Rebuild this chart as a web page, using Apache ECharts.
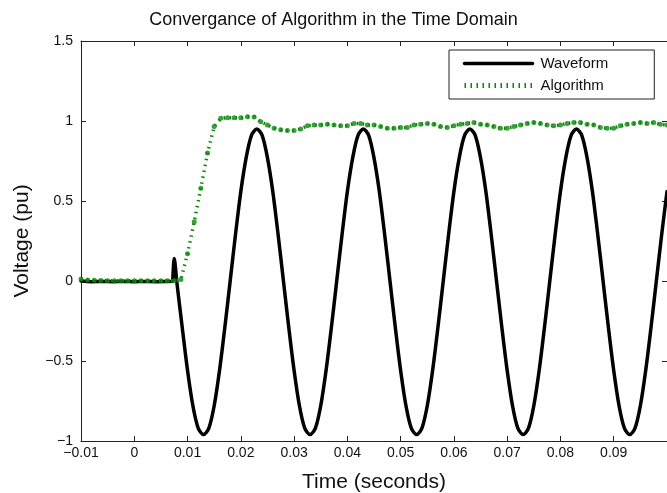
<!DOCTYPE html>
<html>
<head>
<meta charset="utf-8">
<script src="https://cdn.jsdelivr.net/npm/echarts@6/dist/echarts.min.js"></script>
<style>
  html, body { margin: 0; padding: 0; background: #fff; }
  #chart { width: 667px; height: 493px; }
</style>
</head>
<body>
<div id="chart"></div>
<script>
// Measured voltage waveform: [time (s), voltage (pu)]
const waveform = [
  [-0.01, 0.0], [-0.008, -0.004], [-0.006, -0.003], [-0.004, -0.004], [-0.002, -0.003],
  [0.0, -0.004], [0.002, -0.003], [0.004, -0.004], [0.006, -0.003], [0.0072, -0.002],
  [0.0073, 0.0], [0.0075, 0.14], [0.008, -0.01],
  [0.009, -0.29], [0.010, -0.56], [0.011, -0.78], [0.012, -0.92], [0.013, -0.96],
  [0.014, -0.92], [0.015, -0.78], [0.016, -0.56], [0.017, -0.29], [0.018, 0.0],
  [0.019, 0.29], [0.020, 0.56], [0.021, 0.77], [0.022, 0.91], [0.023, 0.95],
  [0.024, 0.91], [0.025, 0.77], [0.026, 0.56], [0.027, 0.29], [0.028, 0.0],
  [0.029, -0.29], [0.030, -0.56], [0.031, -0.78], [0.032, -0.92], [0.033, -0.96],
  [0.034, -0.92], [0.035, -0.78], [0.036, -0.56], [0.037, -0.29], [0.038, 0.0],
  [0.039, 0.29], [0.040, 0.56], [0.041, 0.77], [0.042, 0.91], [0.043, 0.95],
  [0.044, 0.91], [0.045, 0.77], [0.046, 0.56], [0.047, 0.29], [0.048, 0.0],
  [0.049, -0.29], [0.050, -0.56], [0.051, -0.78], [0.052, -0.92], [0.053, -0.96],
  [0.054, -0.92], [0.055, -0.78], [0.056, -0.56], [0.057, -0.29], [0.058, 0.0],
  [0.059, 0.29], [0.060, 0.56], [0.061, 0.77], [0.062, 0.91], [0.063, 0.95],
  [0.064, 0.91], [0.065, 0.77], [0.066, 0.56], [0.067, 0.29], [0.068, 0.0],
  [0.069, -0.29], [0.070, -0.56], [0.071, -0.78], [0.072, -0.92], [0.073, -0.96],
  [0.074, -0.92], [0.075, -0.78], [0.076, -0.56], [0.077, -0.29], [0.078, 0.0],
  [0.079, 0.29], [0.080, 0.56], [0.081, 0.77], [0.082, 0.91], [0.083, 0.95],
  [0.084, 0.91], [0.085, 0.77], [0.086, 0.56], [0.087, 0.29], [0.088, 0.0],
  [0.089, -0.29], [0.090, -0.56], [0.091, -0.78], [0.092, -0.92], [0.093, -0.96],
  [0.094, -0.92], [0.095, -0.78], [0.096, -0.56], [0.097, -0.29], [0.098, 0.0],
  [0.099, 0.29], [0.100, 0.56]
];

// Magnitude estimated by the algorithm: [time (s), voltage (pu)]
const algorithm = [
  [-0.01, 0.012], [-0.00875, 0.006], [-0.0075, 0.004], [-0.00625, 0.003], [-0.005, 0.002],
  [-0.00375, 0.002], [-0.0025, 0.002], [-0.00125, 0.001], [0.0, 0.001], [0.00125, 0.001],
  [0.0025, 0.001], [0.00375, 0.001], [0.005, 0.001], [0.00625, 0.001], [0.0075, 0.001],
  [0.00875, 0.01], [0.01, 0.17], [0.01125, 0.37], [0.0125, 0.58], [0.01375, 0.80],
  [0.015, 0.965], [0.01625, 1.017], [0.0175, 1.02], [0.01875, 1.02], [0.02, 1.02],
  [0.02125, 1.027], [0.0225, 1.025], [0.02375, 0.995], [0.025, 0.975], [0.02625, 0.955],
  [0.0275, 0.945], [0.02875, 0.94], [0.03, 0.94], [0.03125, 0.95], [0.0325, 0.97],
  [0.03375, 0.975], [0.035, 0.975], [0.03625, 0.98], [0.0375, 0.975], [0.03875, 0.97],
  [0.04, 0.97], [0.04125, 0.985], [0.0425, 0.985], [0.04375, 0.975], [0.045, 0.975],
  [0.04625, 0.965], [0.0475, 0.955], [0.04875, 0.955], [0.05, 0.96], [0.05125, 0.96],
  [0.0525, 0.975], [0.05375, 0.98], [0.055, 0.985], [0.05625, 0.98], [0.0575, 0.965],
  [0.05875, 0.96], [0.06, 0.97], [0.06125, 0.98], [0.0625, 0.985], [0.06375, 0.99],
  [0.065, 0.98], [0.06625, 0.975], [0.0675, 0.965], [0.06875, 0.955], [0.07, 0.955],
  [0.07125, 0.965], [0.0725, 0.975], [0.07375, 0.985], [0.075, 0.99], [0.07625, 0.985],
  [0.0775, 0.975], [0.07875, 0.97], [0.08, 0.975], [0.08125, 0.985], [0.0825, 0.99],
  [0.08375, 0.99], [0.085, 0.98], [0.08625, 0.975], [0.0875, 0.96], [0.08875, 0.955],
  [0.09, 0.955], [0.09125, 0.97], [0.0925, 0.98], [0.09375, 0.985], [0.095, 0.99],
  [0.09625, 0.985], [0.0975, 0.99], [0.09875, 0.98], [0.1, 0.975]
];

const xRange = { min: -0.01, max: 0.1, step: 0.01 };
const yRange = { min: -1, max: 1.5, step: 0.5 };

const FONT = '"Liberation Sans", Arial, Helvetica, sans-serif';
const AXIS_COLOR = '#222';
const GREEN = '#0b870b';
const DOT_DASH = [1.5, 4.5];

function fmtX(v) {
  if (v > 0.0995) return '';
  const s = String(+v.toFixed(2));
  return s.replace('-', '\u2212');
}
function fmtY(v) {
  return String(+v.toFixed(2)).replace('-', '\u2212');
}

const axisLineStyle = { show: true, onZero: false, lineStyle: { color: AXIS_COLOR, width: 1 } };
const tickStyle = { show: true, inside: true, length: 5, lineStyle: { color: AXIS_COLOR, width: 1 } };

const chart = echarts.init(document.getElementById('chart'), null, { renderer: 'canvas' });

chart.setOption({
  animation: false,
  backgroundColor: '#fff',
  textStyle: { fontFamily: FONT },
  title: {
    text: 'Convergance of Algorithm in the Time Domain',
    left: 'center',
    top: 6,
    textStyle: { fontFamily: FONT, fontSize: 18, fontWeight: 'normal', color: '#111' }
  },
  grid: { left: 81, right: 0, top: 41, bottom: 52, containLabel: false, outerBoundsMode: 'none' },
  legend: {
    data: [
      { name: 'Waveform', itemStyle: { opacity: 0 }, lineStyle: { color: '#000', width: 3.5, type: 'solid' } },
      { name: 'Algorithm', itemStyle: { opacity: 0 }, lineStyle: { color: GREEN, width: 5, type: DOT_DASH, cap: 'butt' } }
    ],
    orient: 'vertical',
    left: 449,
    top: 50,
    padding: [6, 46, 6, 13],
    itemWidth: 68,
    itemHeight: 14,
    itemGap: 7,
    borderColor: '#222',
    borderWidth: 1,
    borderRadius: 0,
    backgroundColor: '#fff',
    textStyle: { fontFamily: FONT, fontSize: 15, color: '#111', padding: [0, 0, 0, 3] }
  },
  xAxis: [
    {
      type: 'value', position: 'bottom',
      min: xRange.min, max: xRange.max, interval: xRange.step,
      name: 'Time (seconds)', nameLocation: 'middle', nameGap: 31,
      nameTextStyle: { fontFamily: FONT, fontSize: 21, color: '#111' },
      axisLine: axisLineStyle, axisTick: tickStyle,
      axisLabel: { formatter: fmtX, fontFamily: FONT, fontSize: 14, color: '#111', margin: 5 },
      splitLine: { show: false }
    },
    {
      type: 'value', position: 'top',
      min: xRange.min, max: xRange.max, interval: xRange.step,
      axisLine: axisLineStyle, axisTick: tickStyle,
      axisLabel: { show: false }, splitLine: { show: false }
    }
  ],
  yAxis: [
    {
      type: 'value', position: 'left',
      min: yRange.min, max: yRange.max, interval: yRange.step,
      name: 'Voltage (pu)', nameLocation: 'middle', nameGap: 48, nameRotate: 90,
      nameTextStyle: { fontFamily: FONT, fontSize: 21, color: '#111' },
      axisLine: axisLineStyle, axisTick: tickStyle,
      axisLabel: { formatter: fmtY, fontFamily: FONT, fontSize: 14, color: '#111', margin: 8 },
      splitLine: { show: false }
    },
    {
      type: 'value', position: 'right',
      min: yRange.min, max: yRange.max, interval: yRange.step,
      axisLine: axisLineStyle, axisTick: tickStyle,
      axisLabel: { show: false }, splitLine: { show: false }
    }
  ],
  series: [
    {
      name: 'Waveform',
      type: 'line',
      data: waveform,
      symbol: 'none',
      smooth: 0.3,
      lineStyle: { color: '#000', width: 3.5, join: 'round', cap: 'round' },
      itemStyle: { color: '#000' },
      z: 2
    },
    {
      name: 'Algorithm',
      type: 'line',
      data: algorithm,
      symbol: 'none',
      lineStyle: { color: GREEN, width: 3.5, type: DOT_DASH, cap: 'butt' },
      itemStyle: { color: GREEN },
      z: 3
    },
    {
      name: 'Algorithm samples',
      type: 'scatter',
      data: algorithm,
      symbol: 'circle',
      symbolSize: 5,
      itemStyle: { color: GREEN },
      z: 4
    }
  ]
});
</script>
</body>
</html>
